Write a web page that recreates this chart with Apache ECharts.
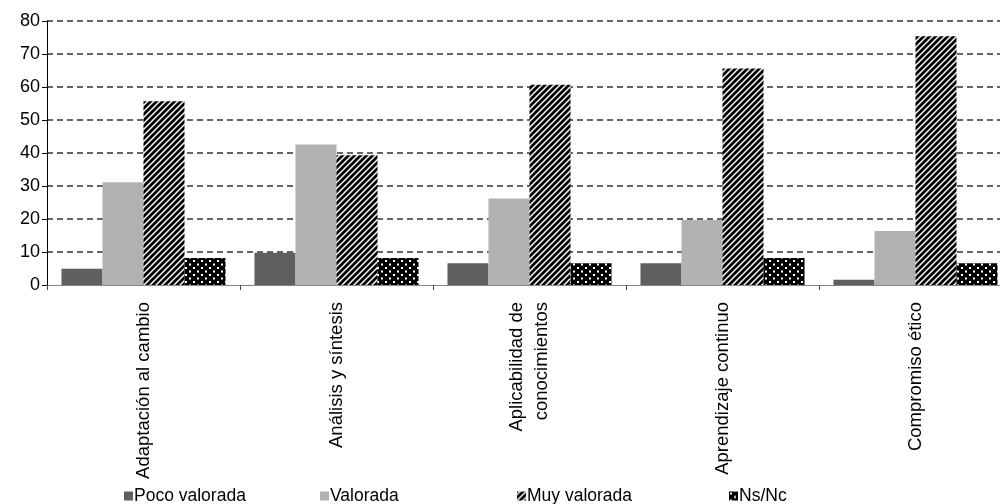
<!DOCTYPE html>
<html>
<head>
<meta charset="utf-8">
<script src="https://cdn.jsdelivr.net/npm/echarts@6/dist/echarts.min.js"></script>
<style>
html,body{margin:0;padding:0;background:#fff;}
#chart{width:1000px;height:504px;}
</style>
</head>
<body>
<div id="chart"></div>
<script>
// ---- data ----
var categories = ['Adaptación al cambio', 'Análisis y síntesis', 'Aplicabilidad de\nconocimientos', 'Aprendizaje continuo', 'Compromiso ético'];
var seriesNames = ['Poco valorada', 'Valorada', 'Muy valorada', 'Ns/Nc'];
var pocoValorada = [4.9, 9.8, 6.6, 6.6, 1.6];
var valorada = [31.1, 42.6, 26.2, 19.7, 16.4];
var muyValorada = [55.7, 39.3, 60.7, 65.6, 75.4];
var nsNc = [8.2, 8.2, 6.6, 8.2, 6.6];
var yTicks = [0, 10, 20, 30, 40, 50, 60, 70, 80];

// ---- patterns ----
function stripePattern() {
  var s = 6, c = document.createElement('canvas');
  c.width = s; c.height = s;
  var ctx = c.getContext('2d');
  ctx.fillStyle = '#fff'; ctx.fillRect(0, 0, s, s);
  ctx.strokeStyle = '#000'; ctx.lineWidth = 2.8; ctx.lineCap = 'square';
  [-s, 0, s].forEach(function (k) {
    ctx.beginPath(); ctx.moveTo(k, s); ctx.lineTo(k + s, 0); ctx.stroke();
  });
  return c;
}
function dotPattern() {
  var w = 8, h = 7, c = document.createElement('canvas');
  c.width = w; c.height = h;
  var ctx = c.getContext('2d');
  ctx.fillStyle = '#000'; ctx.fillRect(0, 0, w, h);
  ctx.fillStyle = '#fff';
  ctx.fillRect(1, 1, 2, 2);
  ctx.fillRect(5, 4.5, 2, 2);
  return c;
}

var colors = ['#5f5f5f', '#b2b2b2', {image: stripePattern(), repeat: 'repeat'}, {image: dotPattern(), repeat: 'repeat'}];
var values = [pocoValorada, valorada, muyValorada, nsNc];
var legendLeft = [119, 315, 512, 724];
var FONT = '"Liberation Sans", Arial, sans-serif';

var chart = echarts.init(document.getElementById('chart'), null, {renderer: 'canvas'});
var option = {
  animation: false,
  backgroundColor: '#fff',
  grid: {left: 47, width: 965, top: 21, height: 264, containLabel: false, outerBoundsMode: 'none'},
  xAxis: {
    type: 'category',
    data: categories,
    axisLine: {show: true, lineStyle: {color: '#868686', width: 1.2}},
    axisTick: {show: true, length: 5, lineStyle: {color: '#444'}},
    axisLabel: {interval: 0, rotate: 90, margin: 17, fontSize: 18.5, color: '#000', fontFamily: FONT, lineHeight: 25},
    z: 5
  },
  yAxis: {
    type: 'value',
    min: yTicks[0], max: yTicks[yTicks.length - 1], interval: 10,
    axisLine: {show: true, lineStyle: {color: '#000', width: 1}},
    axisTick: {show: true, length: 5, lineStyle: {color: '#000'}},
    axisLabel: {margin: 7, fontSize: 18, color: '#000', fontFamily: FONT},
    splitLine: {show: true, showMinLine: false, lineStyle: {color: '#333', type: [6, 4], width: 1.5}}
  },
  legend: seriesNames.map(function (n, i) {
    return {
      data: [n], left: legendLeft[i], top: 482,
      itemWidth: 9, itemHeight: 9, icon: 'rect', selectedMode: false,
      textStyle: {fontSize: 17.5, color: '#000', fontFamily: FONT, padding: [0, 0, 0, -4]}
    };
  }),
  series: seriesNames.map(function (n, i) {
    return {
      name: n, type: 'bar', data: values[i],
      barGap: '0%', barCategoryGap: '15%',
      itemStyle: {color: colors[i]}
    };
  })
};
chart.setOption(option);
</script>
</body>
</html>
